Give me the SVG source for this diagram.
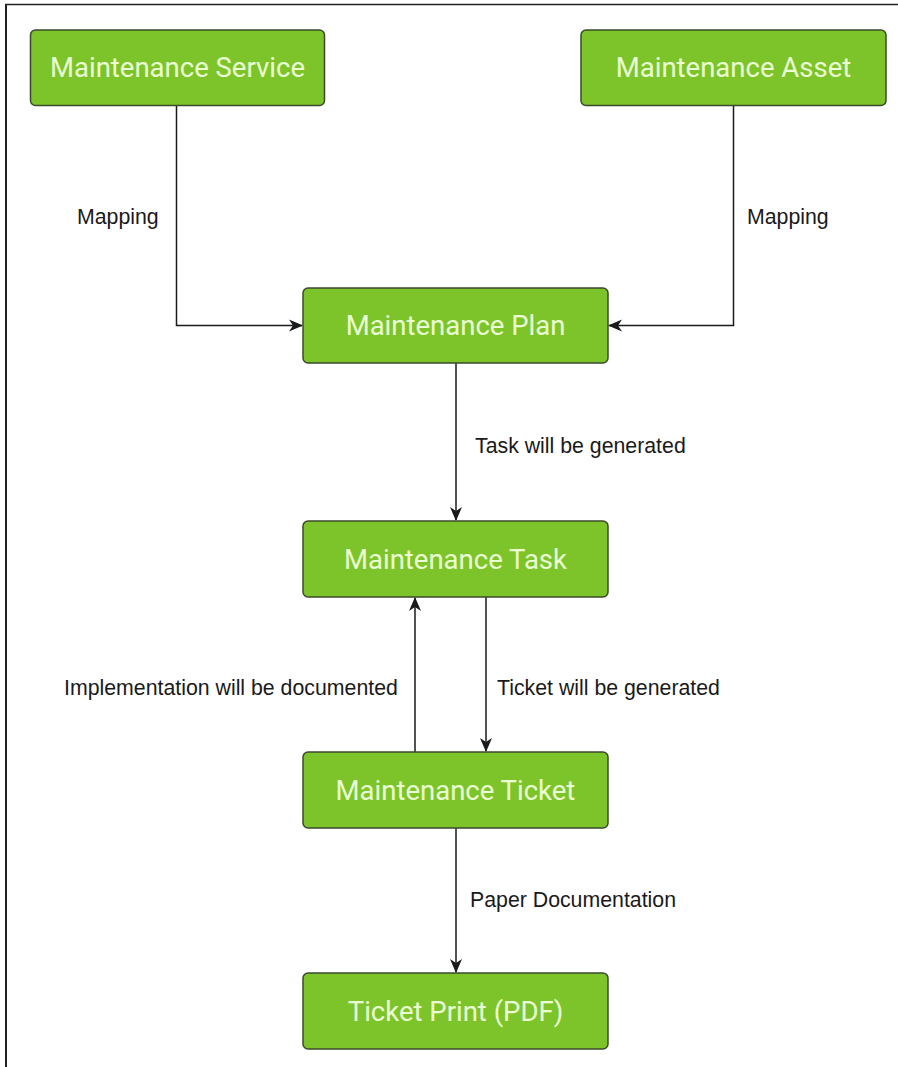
<svg xmlns="http://www.w3.org/2000/svg" width="898" height="1067" viewBox="0 0 898 1067">
  <defs>
    <style>
      .node rect { fill: #7dc42a; stroke: #3b4a2c; stroke-width: 1.5; }
      .node text { font-family: Roboto, "Liberation Sans", sans-serif; font-size: 27.5px; fill: #eaffd4; text-anchor: middle; }
      .edge { fill: none; stroke: #1a1a1a; stroke-width: 1.5; }
      .label { font-family: "Liberation Sans", Arial, sans-serif; font-size: 21.3px; fill: #1a1a1a; }
    </style>
    <marker id="arrow" viewBox="0 0 14 14" refX="13" refY="7" markerWidth="14" markerHeight="14" markerUnits="userSpaceOnUse" orient="auto">
      <path d="M0,1 L14,7 L0,13 L4,7 z" fill="#1a1a1a"/>
    </marker>
  </defs>
  <rect x="0" y="0" width="898" height="1067" fill="#ffffff"/>
  <g id="frame">
    <line x1="5" y1="4.5" x2="898" y2="4.5" stroke="#222" stroke-width="1.5"/>
    <line x1="6" y1="4" x2="6" y2="1067" stroke="#222" stroke-width="2"/>
  </g>
  <g id="connectors">
    <path class="edge" d="M176.5,106 L176.5,325.5 L302,325.5" marker-end="url(#arrow)"/>
    <path class="edge" d="M733.5,106 L733.5,325.5 L609,325.5" marker-end="url(#arrow)"/>
    <path class="edge" d="M456,363 L456,520" marker-end="url(#arrow)"/>
    <path class="edge" d="M486,597 L486,751" marker-end="url(#arrow)"/>
    <path class="edge" d="M415,752 L415,598" marker-end="url(#arrow)"/>
    <path class="edge" d="M456,828 L456,972" marker-end="url(#arrow)"/>
    <text class="label" x="77" y="224">Mapping</text>
    <text class="label" x="747" y="224">Mapping</text>
    <text class="label" x="475" y="453">Task will be generated</text>
    <text class="label" x="64" y="695">Implementation will be documented</text>
    <text class="label" x="497" y="695">Ticket will be generated</text>
    <text class="label" x="470" y="907">Paper Documentation</text>
  </g>
  <g id="node-service" class="node">
    <rect x="30.5" y="30" width="294" height="75.5" rx="5"/>
    <text x="177.5" y="77">Maintenance Service</text>
  </g>
  <g id="node-asset" class="node">
    <rect x="581" y="30" width="305" height="75.5" rx="5"/>
    <text x="733.5" y="77">Maintenance Asset</text>
  </g>
  <g id="node-plan" class="node">
    <rect x="303" y="288" width="305" height="75" rx="5"/>
    <text x="455.5" y="335">Maintenance Plan</text>
  </g>
  <g id="node-task" class="node">
    <rect x="303" y="521" width="305" height="76" rx="5"/>
    <text x="455.5" y="568.5">Maintenance Task</text>
  </g>
  <g id="node-ticket" class="node">
    <rect x="303" y="752" width="305" height="76" rx="5"/>
    <text x="455.5" y="799.5">Maintenance Ticket</text>
  </g>
  <g id="node-print" class="node">
    <rect x="303" y="973" width="305" height="76" rx="5"/>
    <text x="455.5" y="1020.5">Ticket Print (PDF)</text>
  </g>
</svg>
